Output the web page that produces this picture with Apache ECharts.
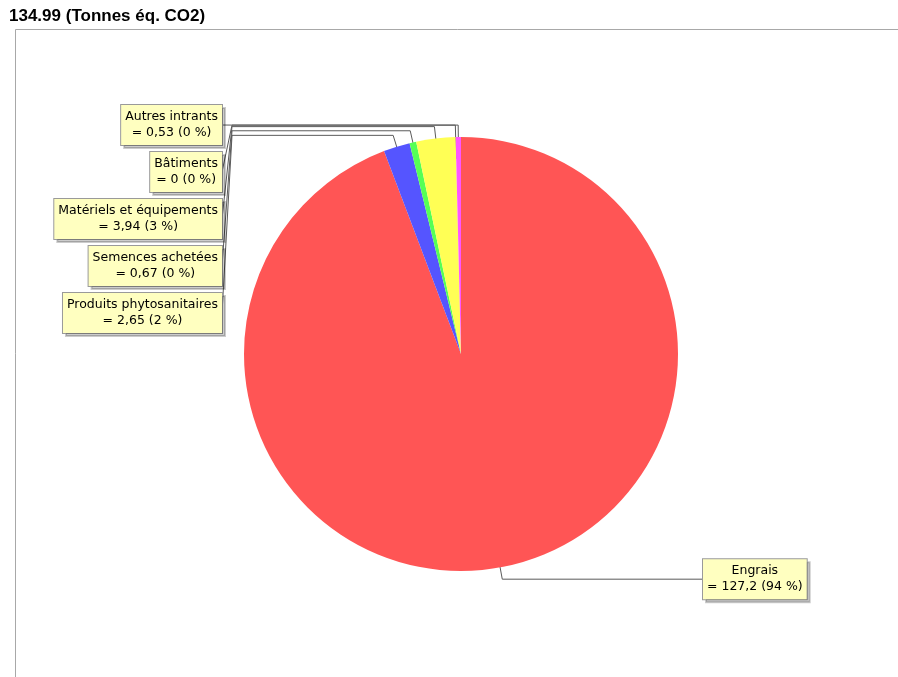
<!DOCTYPE html>
<html>
<head>
<meta charset="utf-8">
<script src="https://cdn.jsdelivr.net/npm/echarts@6/dist/echarts.min.js"></script>
<style>
  html, body { margin: 0; padding: 0; background: #ffffff; }
  #chart { width: 898px; height: 677px; }
</style>
</head>
<body>
<div id="chart"></div>
<script>
// Emission sources (tonnes CO2 equivalent)
const categories = ['Engrais', 'Produits phytosanitaires', 'Semences achetées', 'Matériels et équipements', 'Bâtiments', 'Autres intrants'];
const values = [127.2, 2.65, 0.67, 3.94, 0, 0.53];
const colors = ['#FF5555', '#5555FF', '#55FF55', '#FFFF55', '#55FFFF', '#FF55FF'];
const unit = 'Tonnes éq. CO2';

const total = values.reduce((a, b) => a + b, 0);

// Pie geometry
const cx = 461, cy = 354, R = 217;

// Mid angle of each slice, clockwise from 12 o'clock
const midAngles = [];
let acc = 0;
values.forEach(v => {
  midAngles.push(((acc + v / 2) / total) * Math.PI * 2);
  acc += v;
});

function radial(angle, r) {
  return [cx + r * Math.sin(angle), cy - r * Math.cos(angle)];
}

function fmtNum(v) {
  return String(Math.round(v * 100) / 100).replace('.', ',');
}

const chart = echarts.init(document.getElementById('chart'), null, { renderer: 'canvas' });

chart.setOption({
  backgroundColor: '#ffffff',
  animation: false,
  title: {
    text: total.toFixed(2) + ' (' + unit + ')',
    left: 9,
    top: 8,
    padding: 0,
    textStyle: {
      fontFamily: 'Liberation Sans, Arial, sans-serif',
      fontWeight: 'bold',
      fontSize: 17,
      color: '#000000'
    }
  },
  graphic: [{
    type: 'rect',
    z: -10,
    silent: true,
    shape: { x: 15.5, y: 29.5, width: 1200, height: 1200 },
    style: { fill: 'none', stroke: '#a8a8a8', lineWidth: 1 }
  }],
  series: [{
    type: 'pie',
    center: [cx, cy],
    radius: R,
    startAngle: 90,
    clockwise: true,
    avoidLabelOverlap: false,
    itemStyle: { borderWidth: 0 },
    emphasis: { disabled: true },
    data: categories.map((name, i) => ({
      name: name,
      value: values[i],
      itemStyle: { color: colors[i] }
    })),
    label: {
      show: true,
      position: 'outer',
      alignTo: 'none',
      formatter: p => '{c|' + p.name + '}\n{c|= ' + fmtNum(p.value) + ' (' + Math.round(p.value / total * 100) + ' %)}',
      rich: {
        c: {
          align: 'center',
          fontFamily: 'DejaVu Sans, sans-serif',
          fontSize: 12.5,
          lineHeight: 16,
          color: '#000000'
        }
      },
      backgroundColor: '#FFFFC0',
      borderColor: '#9a9a9a',
      borderWidth: 1,
      padding: [4, 4, 4, 4],
      shadowColor: 'rgba(0,0,0,0.2)',
      shadowBlur: 0,
      shadowOffsetX: 3,
      shadowOffsetY: 3
    },
    labelLine: {
      show: true,
      length: 10,
      length2: 10,
      lineStyle: { color: '#5a5a5a', width: 1 }
    },
    labelLayout: function (params) {
      const i = params.dataIndex;
      const a = midAngles[i];
      const inner = radial(a, R * 0.9);
      const outer = radial(a, R * 1.055);
      if (i === 0) {
        const lx = 703;
        return {
          x: lx, y: outer[1],
          align: 'left', verticalAlign: 'middle',
          labelLinePoints: [inner, outer, [lx, outer[1]]]
        };
      }
      const rank = values.length - 1 - i;
      const midY = 125 + rank * 47;
      const rx = 222;
      return {
        x: rx, y: midY,
        align: 'right', verticalAlign: 'middle',
        labelLinePoints: [inner, outer, [rx + 10, outer[1]], [rx, midY]]
      };
    }
  }]
});
</script>
</body>
</html>
